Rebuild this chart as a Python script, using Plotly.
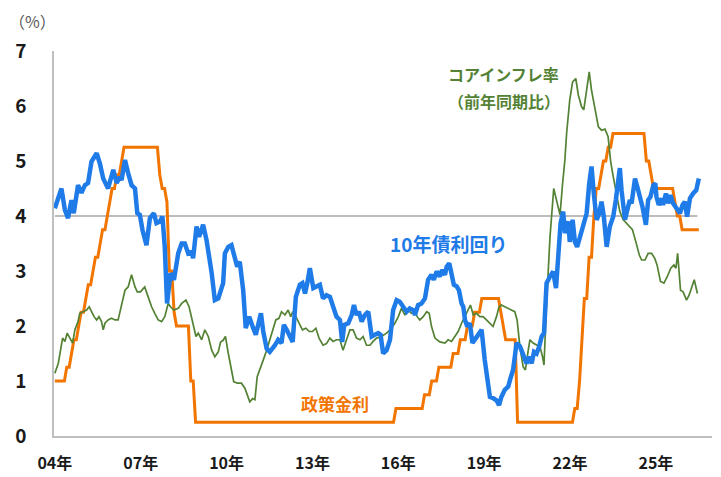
import pandas as pd
import plotly.graph_objects as go

# 10年債利回り (decimal year, %)
bond_year = [2004.00, 2004.23, 2004.35, 2004.46, 2004.58, 2004.66, 2004.81, 2004.93, 2005.05, 2005.16,
             2005.28, 2005.46, 2005.57, 2005.69, 2005.86, 2006.04, 2006.16, 2006.27, 2006.33, 2006.45,
             2006.56, 2006.68, 2006.80, 2006.88, 2006.97, 2007.06, 2007.20, 2007.32, 2007.46, 2007.55,
             2007.67, 2007.76, 2007.84, 2007.92, 2008.04, 2008.16, 2008.31, 2008.43, 2008.54, 2008.66,
             2008.78, 2008.83, 2008.95, 2009.04, 2009.18, 2009.30, 2009.48, 2009.59, 2009.71, 2009.88,
             2009.94, 2010.06, 2010.17, 2010.29, 2010.37, 2010.46, 2010.58, 2010.67, 2010.79, 2010.91,
             2011.02, 2011.20, 2011.28, 2011.40, 2011.51, 2011.69, 2011.80, 2011.92, 2012.00, 2012.10,
             2012.21, 2012.31, 2012.42, 2012.56, 2012.65, 2012.74, 2012.82, 2012.91, 2013.03, 2013.17,
             2013.26, 2013.37, 2013.49, 2013.61, 2013.72, 2013.84, 2013.96, 2014.04, 2014.11, 2014.25,
             2014.37, 2014.45, 2014.54, 2014.62, 2014.72, 2014.83, 2014.95, 2015.07, 2015.18, 2015.30,
             2015.38, 2015.47, 2015.59, 2015.71, 2015.82, 2015.94, 2016.05, 2016.17, 2016.29, 2016.40,
             2016.52, 2016.58, 2016.69, 2016.81, 2016.93, 2017.04, 2017.16, 2017.24, 2017.34, 2017.45,
             2017.53, 2017.63, 2017.69, 2017.78, 2017.86, 2017.94, 2018.04, 2018.12, 2018.21, 2018.27,
             2018.33, 2018.41, 2018.50, 2018.59, 2018.71, 2018.83, 2018.91, 2019.02, 2019.12, 2019.20,
             2019.31, 2019.43, 2019.52, 2019.60, 2019.72, 2019.84, 2019.92, 2020.01, 2020.07, 2020.13,
             2020.25, 2020.36, 2020.48, 2020.57, 2020.66, 2020.74, 2020.83, 2020.92, 2021.01, 2021.09,
             2021.18, 2021.30, 2021.41, 2021.51, 2021.59, 2021.67, 2021.76, 2021.82, 2021.94, 2021.99,
             2022.09, 2022.17, 2022.25, 2022.34, 2022.46, 2022.58, 2022.67, 2022.75, 2022.83, 2022.93,
             2023.02, 2023.10, 2023.18, 2023.28, 2023.39, 2023.51, 2023.60, 2023.68, 2023.74, 2023.80,
             2023.92, 2024.00, 2024.09, 2024.15, 2024.27, 2024.35, 2024.44, 2024.53, 2024.65, 2024.73,
             2024.81, 2024.91, 2024.98, 2025.02, 2025.10, 2025.20, 2025.25, 2025.35, 2025.43, 2025.51,
             2025.60, 2025.72, 2025.84, 2025.93, 2026.01, 2026.09, 2026.19, 2026.30, 2026.41, 2026.50]
bond = [4.14, 4.50, 4.11, 3.96, 4.29, 4.05, 4.56, 4.42, 4.56, 4.60,
        4.99, 5.14, 4.96, 4.68, 4.50, 4.84, 4.60, 4.71, 4.65, 5.02,
        4.78, 4.56, 4.50, 4.05, 4.02, 3.75, 3.47, 3.96, 4.05, 3.87,
        3.90, 3.99, 3.44, 2.41, 2.96, 2.84, 3.32, 3.50, 3.50, 3.32,
        3.35, 3.23, 3.81, 3.62, 3.84, 3.56, 2.96, 2.47, 2.50, 2.78,
        3.32, 3.44, 3.47, 3.26, 3.08, 3.17, 2.65, 1.96, 2.17, 1.99,
        1.84, 2.23, 1.90, 1.59, 1.53, 1.65, 1.75, 1.69, 2.02, 1.93,
        1.81, 1.71, 2.53, 2.75, 2.78, 2.59, 2.78, 3.05, 2.69, 2.72,
        2.75, 2.50, 2.56, 2.53, 2.35, 2.17, 2.11, 1.71, 2.02, 2.05,
        2.20, 2.38, 2.20, 2.26, 2.08, 2.20, 2.26, 1.81, 1.84, 1.87,
        1.84, 1.50, 1.56, 1.75, 2.29, 2.47, 2.44, 2.35, 2.26, 2.32,
        2.29, 2.20, 2.38, 2.41, 2.50, 2.84, 2.93, 2.84, 2.99, 2.90,
        3.02, 2.93, 3.08, 3.14, 2.90, 2.75, 2.72, 2.65, 2.41, 2.35,
        2.11, 1.99, 2.05, 1.69, 1.78, 1.87, 1.93, 1.38, 0.96, 0.71,
        0.69, 0.65, 0.56, 0.71, 0.84, 0.90, 1.05, 1.20, 1.44, 1.69,
        1.63, 1.50, 1.32, 1.44, 1.32, 1.53, 1.50, 1.62, 1.81, 1.87,
        2.78, 2.90, 2.99, 2.69, 3.38, 3.87, 4.08, 3.69, 3.90, 3.53,
        3.93, 3.53, 3.44, 3.62, 3.87, 4.05, 4.59, 4.90, 4.41, 3.93,
        4.05, 4.26, 3.99, 3.44, 3.81, 3.99, 4.29, 4.71, 4.87, 4.47,
        3.93, 4.11, 4.29, 4.23, 4.68, 4.53, 4.35, 4.17, 3.84, 4.29,
        4.35, 4.56, 4.59, 4.35, 4.20, 4.32, 4.20, 4.41, 4.23, 4.38,
        4.23, 4.14, 4.05, 4.20, 4.26, 3.99, 4.32, 4.41, 4.47, 4.68]

# コアインフレ率（前年同期比）
core_year = [2004.00, 2004.12, 2004.27, 2004.35, 2004.43, 2004.52, 2004.62, 2004.70, 2004.81, 2004.87,
             2004.99, 2005.11, 2005.20, 2005.28, 2005.37, 2005.46, 2005.54, 2005.63, 2005.69, 2005.75,
             2005.86, 2005.98, 2006.10, 2006.21, 2006.33, 2006.45, 2006.56, 2006.68, 2006.80, 2006.88,
             2006.99, 2007.14, 2007.26, 2007.38, 2007.49, 2007.61, 2007.73, 2007.84, 2007.96, 2008.04,
             2008.16, 2008.31, 2008.43, 2008.58, 2008.69, 2008.81, 2008.93, 2009.01, 2009.13, 2009.24,
             2009.36, 2009.48, 2009.59, 2009.71, 2009.79, 2009.88, 2009.96, 2010.06, 2010.14, 2010.25,
             2010.37, 2010.52, 2010.64, 2010.73, 2010.81, 2010.91, 2010.99, 2011.07, 2011.16, 2011.28,
             2011.40, 2011.51, 2011.61, 2011.72, 2011.83, 2011.92, 2012.04, 2012.15, 2012.24, 2012.31,
             2012.42, 2012.54, 2012.65, 2012.77, 2012.89, 2013.00, 2013.12, 2013.23, 2013.37, 2013.49,
             2013.61, 2013.72, 2013.84, 2013.96, 2014.07, 2014.19, 2014.31, 2014.42, 2014.54, 2014.66,
             2014.77, 2014.89, 2015.01, 2015.12, 2015.24, 2015.41, 2015.59, 2015.71, 2015.88, 2016.00,
             2016.11, 2016.23, 2016.34, 2016.46, 2016.58, 2016.66, 2016.75, 2016.87, 2016.99, 2017.08,
             2017.16, 2017.28, 2017.45, 2017.63, 2017.74, 2017.86, 2017.98, 2018.09, 2018.21, 2018.33,
             2018.44, 2018.52, 2018.62, 2018.73, 2018.85, 2018.96, 2019.08, 2019.20, 2019.31, 2019.43,
             2019.52, 2019.60, 2019.72, 2019.84, 2019.96, 2020.07, 2020.15, 2020.25, 2020.36, 2020.44,
             2020.54, 2020.60, 2020.71, 2020.83, 2020.95, 2021.04, 2021.09, 2021.18, 2021.30, 2021.43,
             2021.55, 2021.65, 2021.74, 2021.82, 2021.88, 2021.99, 2022.09, 2022.20, 2022.29, 2022.40,
             2022.48, 2022.58, 2022.67, 2022.75, 2022.87, 2022.99, 2023.10, 2023.22, 2023.33, 2023.42,
             2023.51, 2023.63, 2023.74, 2023.86, 2023.97, 2024.09, 2024.18, 2024.30, 2024.42, 2024.50,
             2024.62, 2024.73, 2024.85, 2024.96, 2025.04, 2025.16, 2025.28, 2025.40, 2025.52, 2025.63,
             2025.70, 2025.76, 2025.86, 2025.95, 2026.07, 2026.16, 2026.25, 2026.34, 2026.45]
core = [1.14, 1.32, 1.78, 1.72, 1.87, 1.78, 1.69, 1.93, 2.08, 2.23,
        2.26, 2.29, 2.35, 2.26, 2.17, 2.11, 2.17, 2.08, 1.93, 2.05,
        2.11, 2.14, 2.11, 2.11, 2.41, 2.65, 2.71, 2.93, 2.71, 2.62,
        2.62, 2.71, 2.53, 2.35, 2.23, 2.11, 2.08, 2.17, 2.41, 2.35,
        2.29, 2.32, 2.41, 2.47, 2.35, 2.05, 1.81, 1.87, 1.75, 1.93,
        1.81, 1.56, 1.44, 1.53, 1.71, 1.74, 1.81, 1.50, 1.26, 0.99,
        0.96, 0.96, 0.87, 0.75, 0.62, 0.68, 0.66, 1.08, 1.20, 1.38,
        1.56, 1.75, 1.96, 2.11, 2.14, 2.26, 2.20, 2.29, 2.17, 2.26,
        2.17, 2.05, 1.93, 1.96, 1.90, 1.90, 1.96, 1.78, 1.65, 1.68,
        1.78, 1.72, 1.75, 1.75, 1.56, 1.75, 1.93, 1.93, 1.78, 1.75,
        1.81, 1.65, 1.65, 1.72, 1.78, 1.81, 1.87, 1.93, 2.05, 2.17,
        2.32, 2.20, 2.29, 2.23, 2.26, 2.17, 2.11, 2.17, 2.26, 2.23,
        1.99, 1.78, 1.71, 1.69, 1.75, 1.72, 1.81, 1.90, 2.05, 2.17,
        2.29, 2.38, 2.20, 2.23, 2.17, 2.17, 2.11, 2.05, 1.99, 2.17,
        2.35, 2.38, 2.35, 2.32, 2.29, 2.26, 2.11, 1.62, 1.26, 1.20,
        1.56, 1.75, 1.69, 1.65, 1.62, 1.44, 1.29, 2.41, 3.62, 4.50,
        4.23, 4.02, 4.59, 5.02, 5.50, 6.11, 6.44, 6.50, 6.20, 5.99,
        5.93, 6.29, 6.62, 6.29, 5.93, 5.62, 5.56, 5.58, 5.44, 4.99,
        4.71, 4.35, 4.08, 3.93, 3.87, 3.81, 3.75, 3.53, 3.29, 3.20,
        3.20, 3.32, 3.32, 3.23, 3.11, 2.81, 2.78, 2.90, 3.05, 3.11,
        3.05, 3.32, 2.65, 2.62, 2.47, 2.56, 2.71, 2.84, 2.59]

# 政策金利 (month before / month of each change)
policy_month = ["2004-01", "2004-05", "2004-06", "2004-07", "2004-08", "2004-09", "2004-10", "2004-11", "2004-12",
                "2005-01", "2005-02", "2005-03", "2005-04", "2005-05", "2005-06", "2005-07", "2005-08", "2005-09",
                "2005-10", "2005-11", "2005-12", "2006-01", "2006-02", "2006-03", "2006-04", "2006-05", "2006-06",
                "2007-08", "2007-09", "2007-10", "2007-11", "2007-12", "2008-01", "2008-02", "2008-03", "2008-04",
                "2008-09", "2008-10", "2008-11", "2008-12", "2015-11", "2015-12", "2016-11", "2016-12", "2017-02",
                "2017-03", "2017-05", "2017-06", "2017-11", "2017-12", "2018-02", "2018-03", "2018-05", "2018-06",
                "2018-08", "2018-09", "2018-11", "2018-12", "2019-07", "2019-08", "2019-09", "2019-10", "2020-02",
                "2020-03", "2022-02", "2022-03", "2022-04", "2022-05", "2022-06", "2022-07", "2022-08", "2022-09",
                "2022-10", "2022-11", "2022-12", "2023-01", "2023-02", "2023-03", "2023-04", "2023-05", "2023-06",
                "2023-07", "2024-08", "2024-09", "2024-10", "2024-11", "2024-12", "2025-08", "2025-09", "2025-10",
                "2025-11", "2025-12", "2026-07"]
policy = [1.00, 1.00, 1.25, 1.25, 1.50, 1.75, 1.75, 2.00, 2.25,
          2.25, 2.50, 2.75, 2.75, 3.00, 3.25, 3.25, 3.50, 3.75,
          3.75, 4.00, 4.25, 4.50, 4.50, 4.75, 4.75, 5.00, 5.25,
          5.25, 4.75, 4.50, 4.50, 4.25, 3.00, 3.00, 2.25, 2.00,
          2.00, 1.00, 1.00, 0.25, 0.25, 0.50, 0.50, 0.75, 0.75,
          1.00, 1.00, 1.25, 1.25, 1.50, 1.50, 1.75, 1.75, 2.00,
          2.00, 2.25, 2.25, 2.50, 2.50, 2.25, 2.00, 1.75, 1.75,
          0.25, 0.25, 0.50, 0.50, 1.00, 1.75, 2.50, 2.50, 3.25,
          3.25, 4.00, 4.50, 4.50, 4.75, 5.00, 5.00, 5.25, 5.25,
          5.50, 5.50, 5.00, 5.00, 4.75, 4.50, 4.50, 4.25, 4.00,
          4.00, 3.75, 3.75]

ref_level = 4.0
tick_years = [2004, 2007, 2010, 2013, 2016, 2019, 2022, 2025]
tick_text = ["04年", "07年", "10年", "13年", "16年", "19年", "22年", "25年"]

pm = pd.to_datetime(policy_month)
policy_year = pm.year + (pm.month - 1) / 12

FONT = "Noto Sans CJK JP"
BLUE = "#1F7BE8"
ORANGE = "#F27500"
GREEN = "#548235"

fig = go.Figure()
fig.add_trace(go.Scatter(x=[core_year[0], core_year[-1]], y=[ref_level, ref_level], mode="lines",
                         line=dict(color="#A6A6A6", width=1.5), hoverinfo="skip"))
fig.add_trace(go.Scatter(x=policy_year, y=policy, mode="lines", name="政策金利",
                         line=dict(color=ORANGE, width=3)))
fig.add_trace(go.Scatter(x=core_year, y=core, mode="lines", name="コアインフレ率",
                         line=dict(color=GREEN, width=1.7)))
fig.add_trace(go.Scatter(x=bond_year, y=bond, mode="lines", name="10年債利回り",
                         line=dict(color=BLUE, width=4.5)))

fig.add_annotation(x=2019.68, y=6.58, text="<b>コアインフレ率</b>", showarrow=False,
                   font=dict(family=FONT, size=16, color=GREEN))
fig.add_annotation(x=2019.68, y=6.09, text="<b>（前年同期比）</b>", showarrow=False,
                   font=dict(family=FONT, size=16, color=GREEN))
fig.add_annotation(x=2017.77, y=3.5, text="<b>10年債利回り</b>", showarrow=False,
                   font=dict(family=FONT, size=19, color=BLUE))
fig.add_annotation(x=2013.78, y=0.6, text="<b>政策金利</b>", showarrow=False,
                   font=dict(family=FONT, size=17, color=ORANGE))
# unit label pinned to the figure's top-left corner
fig.add_annotation(x=-46 / 658, y=1 + 43 / 385, xref="paper", yref="paper", xanchor="left", yanchor="top",
                   text="（%）", showarrow=False, borderpad=0,
                   font=dict(family=FONT, size=16, color="#595959"))

# page body adds an 8px offset, so the figure is sized/margined to compensate
fig.update_layout(
    width=713, height=469,
    margin=dict(l=46, r=9, t=43, b=41),
    paper_bgcolor="white", plot_bgcolor="white",
    showlegend=False,
    font=dict(family=FONT),
)

fig.update_xaxes(range=[2003.97, 2026.96], tickvals=tick_years, ticktext=tick_text, automargin=False,
                 showgrid=False, zeroline=False, showline=True, linecolor="#BFBFBF", linewidth=1.5,
                 ticks="", ticklabelstandoff=12,
                 tickfont=dict(family=FONT, size=16, color="#1A1A1A", weight="bold"))
fig.update_yaxes(range=[0, 7], dtick=1, showgrid=False, zeroline=False, showline=True, automargin=False,
                 linecolor="#BFBFBF", linewidth=1.5,
                 ticks="outside", ticklen=22, tickcolor="rgba(0,0,0,0)",
                 tickfont=dict(family=FONT, size=19, color="#1A1A1A", weight="bold"))

fig.write_html("out.html")
